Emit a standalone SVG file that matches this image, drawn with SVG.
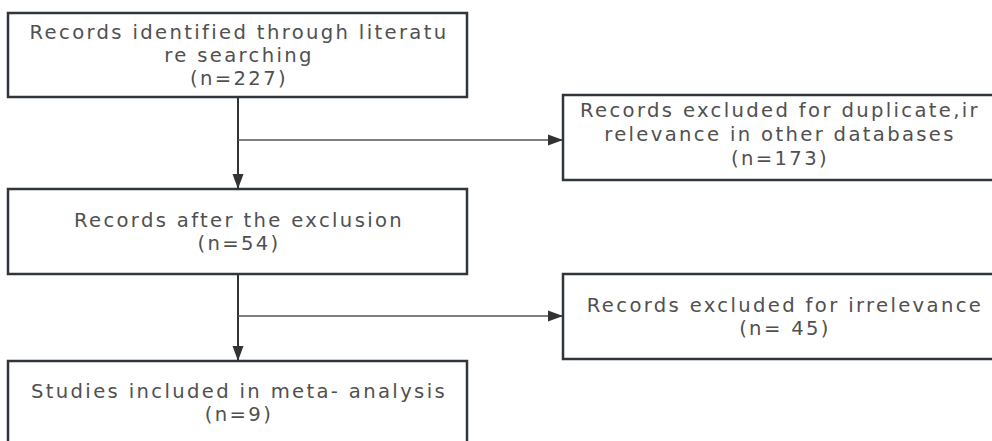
<svg xmlns="http://www.w3.org/2000/svg" width="992" height="441" viewBox="0 0 992 441">
<style>
.box{fill:#fff;stroke:#2f353a;stroke-width:2.5}
.t{font-family:"DejaVu Sans","Noto Sans",sans-serif;font-size:19.6px;fill:#505050;text-anchor:middle;letter-spacing:2.35px}
.v{stroke:#333;stroke-width:2;fill:none}
.h{stroke:#555;stroke-width:1.5;fill:none}
</style>
<defs>
<marker id="ah" markerWidth="16" markerHeight="12" refX="15" refY="6" orient="auto" markerUnits="userSpaceOnUse">
<path d="M0,0.5 L15,6 L0,11.5 Z" fill="#333"/>
</marker>
</defs>
<rect width="992" height="441" fill="#fff"/>
<g id="connectors">
<line class="v" x1="238" y1="97" x2="238" y2="189" marker-end="url(#ah)"/>
<line class="h" x1="238" y1="140" x2="563" y2="140" marker-end="url(#ah)"/>
<line class="v" x1="238" y1="274" x2="238" y2="361" marker-end="url(#ah)"/>
<line class="h" x1="238" y1="316" x2="563" y2="316" marker-end="url(#ah)"/>
</g>
<g id="n1">
<rect class="box" x="8" y="13" width="459" height="84"/>
<text class="t" x="239" y="39">Records identified through literatu</text>
<text class="t" x="239" y="62">re searching</text>
<text class="t" x="239" y="85">(n=227)</text>
</g>
<g id="n2">
<rect class="box" x="563" y="95" width="440" height="85"/>
<text class="t" x="780" y="117">Records excluded for duplicate,ir</text>
<text class="t" x="780" y="141">relevance in other databases</text>
<text class="t" x="780" y="165">(n=173)</text>
</g>
<g id="n3">
<rect class="box" x="8" y="189" width="459" height="85"/>
<text class="t" x="239" y="227">Records after the exclusion</text>
<text class="t" x="239" y="250">(n=54)</text>
</g>
<g id="n4">
<rect class="box" x="563" y="274" width="440" height="85"/>
<text class="t" x="785" y="312">Records excluded for irrelevance</text>
<text class="t" x="785" y="335">(n= 45)</text>
</g>
<g id="n5">
<rect class="box" x="8" y="361" width="459" height="95"/>
<text class="t" x="239" y="398">Studies included in meta- analysis</text>
<text class="t" x="239" y="421">(n=9)</text>
</g>
</svg>
